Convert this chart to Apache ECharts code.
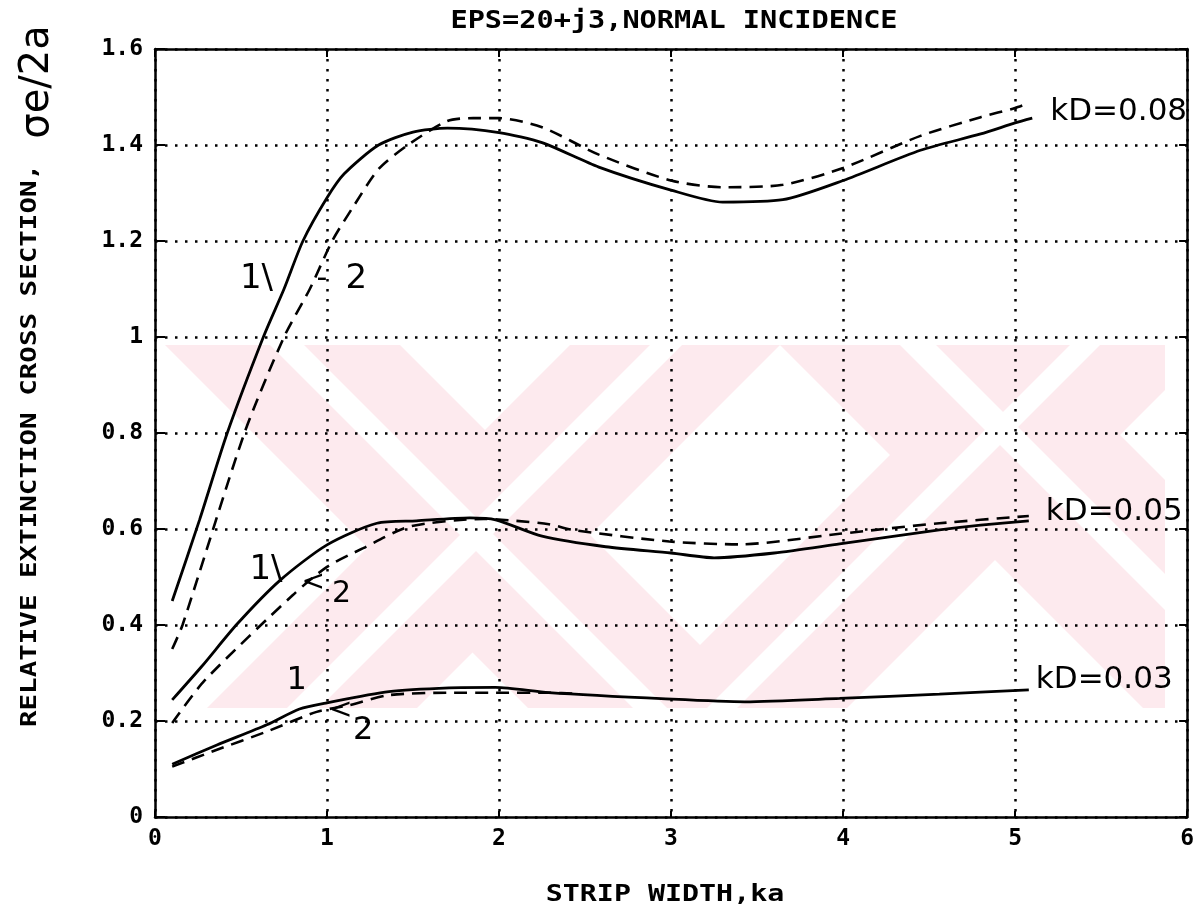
<!DOCTYPE html>
<html>
<head>
<meta charset="utf-8">
<script src="https://cdn.jsdelivr.net/npm/echarts@6/dist/echarts.min.js"></script>
<style>
  html, body { margin: 0; padding: 0; background: #fff; }
  #chart { width: 1197px; height: 913px; }
</style>
</head>
<body>
<div id="chart"></div>
<script>
// Strip width ka (x) and relative extinction cross section σe/2a (y).
// Curve 1 = solid, curve 2 = dashed, for three values of kD.
const x08a = [0.1, 0.26, 0.42, 0.63, 0.75, 0.86, 1.0, 1.1, 1.3, 1.5, 1.7, 2.0, 2.25, 2.58, 3.0, 3.3, 3.65, 4.0, 4.45, 4.8, 5.0, 5.1];
const y08a = [0.45, 0.62, 0.80, 1.00, 1.10, 1.20, 1.29, 1.34, 1.40, 1.427, 1.435, 1.426, 1.405, 1.354, 1.306, 1.281, 1.286, 1.326, 1.389, 1.423, 1.446, 1.456];
const x08b = [0.1, 0.16, 0.52, 0.75, 0.9, 1.03, 1.15, 1.3, 1.47, 1.7, 1.85, 2.0, 2.25, 2.58, 3.0, 3.3, 3.65, 4.0, 4.45, 4.8, 5.0, 5.07];
const y08b = [0.35, 0.40, 0.80, 1.00, 1.10, 1.20, 1.27, 1.35, 1.40, 1.45, 1.456, 1.456, 1.437, 1.38, 1.326, 1.312, 1.317, 1.352, 1.419, 1.458, 1.477, 1.486];

const x05a = [0.1, 0.27, 0.48, 0.73, 1.0, 1.29, 1.52, 1.83, 1.98, 2.25, 2.62, 3.0, 3.25, 3.6, 3.98, 4.56, 4.8, 5.08];
const y05a = [0.244, 0.313, 0.403, 0.494, 0.567, 0.612, 0.617, 0.623, 0.619, 0.585, 0.563, 0.55, 0.54, 0.55, 0.569, 0.598, 0.608, 0.617];
const x05b = [0.1, 0.29, 0.8, 1.0, 1.21, 1.48, 1.91, 2.1, 2.29, 2.43, 2.99, 3.4, 3.98, 4.56, 5.08];
const y05b = [0.196, 0.285, 0.462, 0.521, 0.56, 0.605, 0.621, 0.617, 0.61, 0.598, 0.574, 0.568, 0.59, 0.612, 0.627];

const x03a = [0.1, 0.36, 0.65, 0.84, 1.0, 1.36, 1.71, 1.98, 2.29, 2.97, 3.43, 3.98, 4.56, 5.08];
const y03a = [0.11, 0.15, 0.192, 0.225, 0.238, 0.261, 0.269, 0.27, 0.259, 0.246, 0.24, 0.247, 0.256, 0.265];
const x03b = [0.1, 0.36, 0.65, 0.94, 1.13, 1.36, 1.71, 1.98, 2.29, 2.45];
const y03b = [0.105, 0.14, 0.178, 0.219, 0.233, 0.254, 0.259, 0.259, 0.259, 0.257];

// Curve names written at the right-hand end of each solid curve
const curveNames = ['kD=0.08', 'kD=0.05', 'kD=0.03'];

// Hand-written "1" / "2" markers beside the curves (data coordinates)
const noteText = ['1\\', '-', '2', '1\\', '<', '2', '1', '<', '2'];
const noteX    = [0.59, 0.97, 1.17, 0.645, 0.92, 1.085, 0.823, 1.08, 1.21];
const noteY    = [1.12, 1.12, 1.12, 0.515, 0.4875, 0.465, 0.285, 0.222, 0.18];
const noteSize = [34, 30, 34, 34, 28, 30, 32, 28, 32];

const titleText = 'EPS=20+j3,NORMAL INCIDENCE';
const xName = 'STRIP WIDTH,ka';
const yName = 'RELATIVE EXTINCTION CROSS SECTION,';
const yNameHand = 'σe/2a';

const MONO = '"DejaVu Sans Mono", "Liberation Mono", monospace';
const HAND = '"DejaVu Sans", "Open Sans", sans-serif';

const pairs = (xs, ys) => xs.map((x, i) => [x, ys[i]]);

const chart = echarts.init(document.getElementById('chart'), null, { renderer: 'canvas' });

// Faint pink diagonal watermark bands behind the plot
function clipPoly(pts, x0, y0, x1, y1) {
  const edges = [
    p => p[0] >= x0, p => p[0] <= x1, p => p[1] >= y0, p => p[1] <= y1
  ];
  const inter = [
    (a, b) => { const t = (x0 - a[0]) / (b[0] - a[0]); return [x0, a[1] + t * (b[1] - a[1])]; },
    (a, b) => { const t = (x1 - a[0]) / (b[0] - a[0]); return [x1, a[1] + t * (b[1] - a[1])]; },
    (a, b) => { const t = (y0 - a[1]) / (b[1] - a[1]); return [a[0] + t * (b[0] - a[0]), y0]; },
    (a, b) => { const t = (y1 - a[1]) / (b[1] - a[1]); return [a[0] + t * (b[0] - a[0]), y1]; }
  ];
  let out = pts;
  for (let e = 0; e < 4; e++) {
    const inp = out; out = [];
    for (let i = 0; i < inp.length; i++) {
      const cur = inp[i], prev = inp[(i + inp.length - 1) % inp.length];
      const cIn = edges[e](cur), pIn = edges[e](prev);
      if (cIn) { if (!pIn) out.push(inter[e](prev, cur)); out.push(cur); }
      else if (pIn) out.push(inter[e](prev, cur));
    }
    if (!out.length) break;
  }
  return out;
}
const WM = { left: 160, right: 1165, top: 345, bottom: 708 };
function band(x0, w, dir) {
  const h = WM.bottom - WM.top;
  return [[x0, WM.top], [x0 + w, WM.top], [x0 + w + dir * h, WM.bottom], [x0 + dir * h, WM.bottom]];
}
const wmPink = [band(165, 235, 1), band(570, 210, -1), band(780, 250, 1), band(1000, 165, -1), band(1090, 120, -1)];
const wmWhite = [band(270, 34, 1), band(650, 32, -1), band(900, 36, 1), band(1070, 30, -1)];
const wmGraphics = [];
wmPink.forEach(p => wmGraphics.push({
  type: 'polygon', silent: true, z: -10,
  shape: { points: clipPoly(p, WM.left, WM.top, WM.right, WM.bottom) },
  style: { fill: '#fdeaee' }
}));
wmWhite.forEach(p => wmGraphics.push({
  type: 'polygon', silent: true, z: -9,
  shape: { points: clipPoly(p, WM.left, WM.top, WM.right, WM.bottom) },
  style: { fill: '#ffffff' }
}));

const solidStyle = { color: '#000', width: 2.8, type: 'solid' };
const dashStyle = { color: '#000', width: 2.6, type: [13, 8] };

function endLabel(dist, dy) {
  return {
    show: true, formatter: '{a}', distance: dist, offset: [0, dy],
    color: '#000', fontFamily: HAND, fontSize: 31, fontWeight: 'normal'
  };
}

const notes = noteText.map((t, i) => ({
  coord: [noteX[i], noteY[i]],
  label: { formatter: t, fontSize: noteSize[i] }
}));

function lineSeries(name, xs, ys, style, extra) {
  return Object.assign({
    name: name, type: 'line', data: pairs(xs, ys),
    symbol: 'none', smooth: 0.25, lineStyle: style,
    xAxisIndex: 0, yAxisIndex: 0, z: 3, silent: true
  }, extra || {});
}

const tickFont = { color: '#000', fontFamily: MONO, fontWeight: 'bold', fontSize: 23 };

const option = {
  backgroundColor: '#fff',
  animation: false,
  grid: { left: 155, right: 9, top: 49, bottom: 96, containLabel: false },
  xAxis: [{
    type: 'value', min: 0, max: 6, interval: 1, position: 'bottom',
    axisLine: { show: true, onZero: false, lineStyle: { color: '#000', width: 2.5 } },
    axisTick: { show: true, inside: true, length: 6, lineStyle: { color: '#000', width: 2 } },
    axisLabel: Object.assign({ margin: 11 }, tickFont),
    splitLine: { show: true, lineStyle: { color: '#000', width: 2.5, type: [2.5, 7.5] } }
  }, {
    type: 'value', min: 0, max: 6, interval: 1, position: 'top',
    axisLine: { show: true, onZero: false, lineStyle: { color: '#000', width: 2.5 } },
    axisTick: { show: true, inside: true, length: 8, lineStyle: { color: '#000', width: 2 } },
    axisLabel: { show: false }, splitLine: { show: false }
  }],
  yAxis: [{
    type: 'value', min: 0, max: 1.6, interval: 0.2, position: 'left',
    axisLine: { show: true, onZero: false, lineStyle: { color: '#000', width: 2.5 } },
    axisTick: { show: true, inside: true, length: 10, lineStyle: { color: '#000', width: 2 } },
    axisLabel: Object.assign({
      margin: 12,
      formatter: v => (Math.abs(v - Math.round(v)) < 1e-9 ? String(Math.round(v)) : v.toFixed(1))
    }, tickFont),
    splitLine: { show: true, lineStyle: { color: '#000', width: 2.5, type: [2.5, 7.5] } }
  }, {
    type: 'value', min: 0, max: 1.6, interval: 0.2, position: 'right',
    axisLine: { show: true, onZero: false, lineStyle: { color: '#000', width: 2.5 } },
    axisTick: { show: true, inside: true, length: 8, lineStyle: { color: '#000', width: 2 } },
    axisLabel: { show: false }, splitLine: { show: false }
  }],
  graphic: wmGraphics.concat([
    {
      type: 'text', x: 674, y: 22, scaleX: 1.19, silent: true,
      style: { text: titleText, font: 'bold 24px ' + MONO, fill: '#000', align: 'center', verticalAlign: 'middle' }
    },
    {
      type: 'text', x: 665, y: 895, scaleX: 1.23, silent: true,
      style: { text: xName, font: 'bold 23px ' + MONO, fill: '#000', align: 'center', verticalAlign: 'middle' }
    },
    {
      type: 'text', x: 31, y: 727, rotation: Math.PI / 2, scaleX: 1.31, silent: true,
      style: { text: yName, font: 'bold 21px ' + MONO, fill: '#000', align: 'left', verticalAlign: 'middle' }
    },
    {
      type: 'text', x: 38, y: 82, rotation: Math.PI / 2, silent: true,
      style: { text: yNameHand, font: '40px ' + HAND, fill: '#000', align: 'center', verticalAlign: 'middle' }
    }
  ]),
  series: [
    lineSeries(curveNames[0], x08a, y08a, solidStyle, {
      endLabel: endLabel(18, -6),
      markPoint: {
        symbol: 'circle', symbolSize: 1, silent: true,
        itemStyle: { color: 'rgba(0,0,0,0)' },
        label: { show: true, position: 'inside', color: '#000', fontFamily: HAND },
        data: notes
      }
    }),
    lineSeries('kD=0.08 (2)', x08b, y08b, dashStyle),
    lineSeries(curveNames[1], x05a, y05a, solidStyle, { endLabel: endLabel(17, -9) }),
    lineSeries('kD=0.05 (2)', x05b, y05b, dashStyle),
    lineSeries(curveNames[2], x03a, y03a, solidStyle, { endLabel: endLabel(7, -10) }),
    lineSeries('kD=0.03 (2)', x03b, y03b, dashStyle)
  ]
};

chart.setOption(option);
</script>
</body>
</html>
